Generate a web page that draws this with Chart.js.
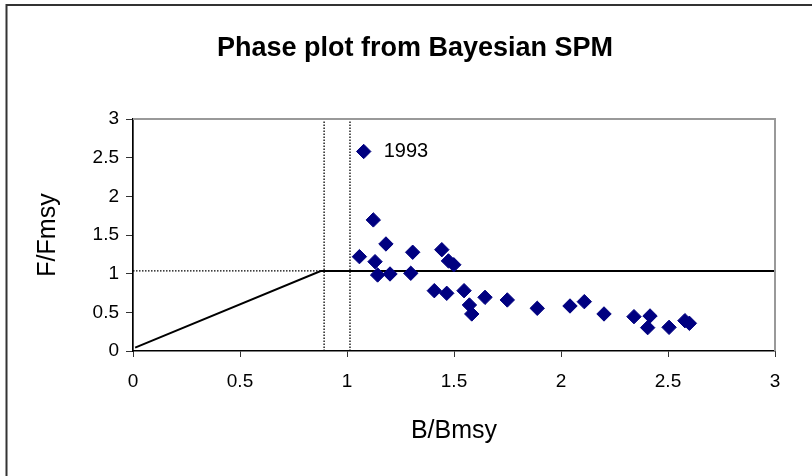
<!DOCTYPE html>
<html>
<head>
<meta charset="utf-8">
<script src="https://cdn.jsdelivr.net/npm/chart.js@4/dist/chart.umd.min.js"></script>
<style>
  html, body { margin: 0; padding: 0; background: #fff; }
  #wrap { width: 812px; height: 476px; position: relative; }
</style>
</head>
<body>
<div id="wrap"><canvas id="chart"></canvas></div>
<script>
// B/Bmsy and F/Fmsy per year, first point is 1993
const bRatio = [1.078, 1.123, 1.182, 1.058, 1.131, 1.143, 1.201, 1.307, 1.298, 1.443,
                1.474, 1.499, 1.408, 1.466, 1.547, 1.572, 1.583, 1.645, 1.749, 1.889,
                2.042, 2.109, 2.201, 2.341, 2.416, 2.405, 2.505, 2.579, 2.600];
const fRatio = [2.58, 1.695, 1.384, 1.22, 1.155, 0.983, 0.996, 1.277, 1.005, 1.31,
                1.165, 1.115, 0.78, 0.746, 0.78, 0.595, 0.479, 0.694, 0.66, 0.552,
                0.582, 0.638, 0.479, 0.444, 0.453, 0.302, 0.306, 0.392, 0.358];
const firstYear = '1993';

// harvest control rule
const ruleX = [0.01, 0.877, 3];
const ruleY = [0.043, 1.035, 1.035];
// dotted reference lines
const limitX1 = [0.893, 0.893];
const limitX2 = [1.014, 1.014];
const limitY = [0, 3];
const targetX = [0, 0.877];
const targetY = [1.035, 1.035];

const tickVals = [0, 0.5, 1, 1.5, 2, 2.5, 3];

function pts(xs, ys) {
    return xs.map(function(x, i) { return {x: x, y: ys[i]}; });
}

const FONT = 'Arial, "Liberation Sans", sans-serif';

function dotted(data) {
    return {
        data: data, showLine: true, pointRadius: 0, borderColor: '#000',
        borderWidth: 1.3, borderDash: [1.5, 1.5], fill: false
    };
}

const extras = {
    id: 'extras',
    beforeDraw: function(chart) {
        const ctx = chart.ctx;
        ctx.save();
        ctx.fillStyle = '#fff';
        ctx.fillRect(0, 0, chart.width, chart.height);
        // outer frame
        ctx.strokeStyle = '#333';
        ctx.lineWidth = 2;
        ctx.beginPath();
        ctx.moveTo(6.5, chart.height);
        ctx.lineTo(6.5, 5);
        ctx.lineTo(chart.width, 5);
        ctx.stroke();
        ctx.restore();
    },
    afterDraw: function(chart) {
        const ctx = chart.ctx;
        const a = chart.chartArea;
        ctx.save();
        // plot area top / right border
        ctx.strokeStyle = '#999';
        ctx.lineWidth = 2;
        ctx.beginPath();
        ctx.moveTo(a.left, a.top);
        ctx.lineTo(a.right, a.top);
        ctx.lineTo(a.right, a.bottom);
        ctx.stroke();
        // title
        ctx.fillStyle = '#000';
        ctx.font = 'bold 27px ' + FONT;
        ctx.textAlign = 'center';
        ctx.textBaseline = 'middle';
        ctx.fillText('Phase plot from Bayesian SPM', 415, 49);
        // year label
        const xs = chart.scales.x, ys = chart.scales.y;
        ctx.font = '20px ' + FONT;
        ctx.textAlign = 'left';
        ctx.fillText(firstYear, xs.getPixelForValue(bRatio[0]) + 20, ys.getPixelForValue(fRatio[0]));
        ctx.restore();
    }
};

new Chart(document.getElementById('chart'), {
    type: 'scatter',
    data: {
        datasets: [
            {
                data: pts(bRatio, fRatio),
                pointStyle: 'rectRot',
                pointRadius: 7.2,
                pointHoverRadius: 7.2,
                backgroundColor: '#000080',
                borderColor: '#000080',
                borderWidth: 1
            },
            {
                data: pts(ruleX, ruleY), showLine: true, pointRadius: 0,
                borderColor: '#000', borderWidth: 2, fill: false
            },
            dotted(pts(limitX1, limitY)),
            dotted(pts(limitX2, limitY)),
            dotted(pts(targetX, targetY))
        ]
    },
    options: {
        responsive: true,
        maintainAspectRatio: false,
        animation: false,
        layout: { padding: { top: 119, right: 37, bottom: 0, left: 0 } },
        plugins: {
            legend: { display: false },
            tooltip: { enabled: false },
            title: { display: false }
        },
        scales: {
            x: {
                type: 'linear', min: 0, max: 3,
                afterBuildTicks: function(s) { s.ticks = tickVals.map(function(v) { return {value: v}; }); },
                afterFit: function(s) { s.height = 125; },
                grid: { drawOnChartArea: false, drawTicks: true, tickLength: 6, color: '#333', lineWidth: 1 },
                border: { display: true, color: '#000', width: 1.5 },
                ticks: {
                    padding: 13, color: '#000', font: { family: FONT, size: 19 },
                    callback: function(v) { return String(v); }
                },
                title: {
                    display: true, text: 'B/Bmsy', color: '#000',
                    font: { family: FONT, size: 25 }, padding: { top: 0, bottom: 30 }
                }
            },
            y: {
                type: 'linear', min: 0, max: 3,
                afterBuildTicks: function(s) { s.ticks = tickVals.map(function(v) { return {value: v}; }); },
                afterFit: function(s) { s.width = 133; },
                grid: { drawOnChartArea: false, drawTicks: true, tickLength: 7, color: '#333', lineWidth: 1 },
                border: { display: true, color: '#000', width: 1.7 },
                ticks: {
                    padding: 7, color: '#000', font: { family: FONT, size: 19 },
                    callback: function(v) { return String(v); }
                },
                title: {
                    display: true, text: 'F/Fmsy', color: '#000',
                    font: { family: FONT, size: 25 }, padding: { top: 33, bottom: 0 }
                }
            }
        }
    },
    plugins: [extras]
});
</script>
</body>
</html>
